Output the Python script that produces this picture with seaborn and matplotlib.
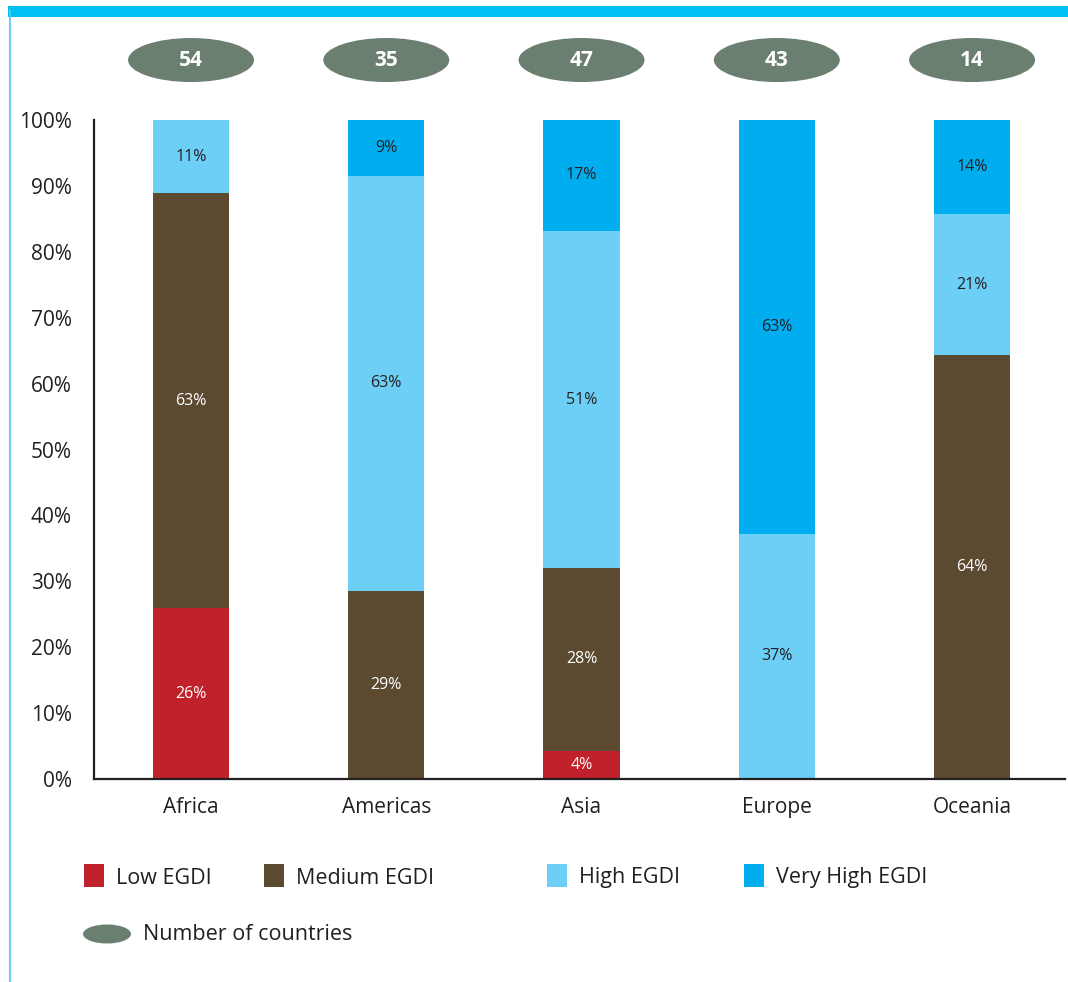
import numpy as np
import pandas as pd
import matplotlib
matplotlib.use("Agg")
import matplotlib.pyplot as plt
import seaborn as sns
from matplotlib.patches import Ellipse, Rectangle
from matplotlib.lines import Line2D

# ---------------- data ----------------
regions = ["Africa", "Americas", "Asia", "Europe", "Oceania"]
country_counts = [54, 35, 47, 43, 14]
levels = ["Low EGDI", "Medium EGDI", "High EGDI", "Very High EGDI"]
low = [25.9, 0.0, 4.3, 0.0, 0.0]
medium = [63.0, 28.6, 27.7, 0.0, 64.3]
high = [11.1, 62.9, 51.1, 37.2, 21.4]
very_high = [0.0, 8.6, 17.0, 62.8, 14.3]
y_ticks = [0, 10, 20, 30, 40, 50, 60, 70, 80, 90, 100]

series = [low, medium, high, very_high]
colors = ["#c1212a", "#5b4930", "#6dcff6", "#00aeef"]
label_colors = ["white", "white", "#231f20", "#231f20"]
ellipse_color = "#6b7f70"
text_color = "#231f20"

sns.set_theme(style="white")
plt.rcParams["font.family"] = ["Open Sans", "DejaVu Sans"]

W, H = 1068, 982
fig = plt.figure(figsize=(W / 100, H / 100), dpi=100)
ax = fig.add_axes([94 / W, 1 - 779 / H, (1065 - 94) / W, (779 - 120) / H])

bottom = np.zeros(len(regions))
for name, vals, col, lcol in zip(levels, series, colors, label_colors):
    vals = np.array(vals, dtype=float)
    df = pd.DataFrame({"region": regions, "value": vals})
    sns.barplot(data=df, x="region", y="value", order=regions, color=col,
                width=0.39, bottom=bottom.copy(), ax=ax, saturation=1,
                errorbar=None, linewidth=0)
    for i, v in enumerate(vals):
        if v > 0:
            ax.text(i, bottom[i] + v / 2, f"{round(v)}%", ha="center",
                    va="center", fontsize=11.5, color=lcol)
    bottom += vals

# country count ellipses
for i, n in enumerate(country_counts):
    ax.add_patch(Ellipse((i, 109.1), 0.645, 6.68, facecolor=ellipse_color,
                         edgecolor="none", clip_on=False))
    ax.text(i, 109.1, str(n), ha="center", va="center", fontsize=15,
            fontweight="bold", color="white", clip_on=False)

ax.set_xlim(-0.497, 4.476)
ax.set_ylim(0, 100)
ax.set_yticks(y_ticks)
ax.set_yticklabels([f"{t}%" for t in y_ticks])
ax.set_xlabel("")
ax.set_ylabel("")
ax.tick_params(axis="both", length=0, labelsize=15, labelcolor=text_color)
ax.tick_params(axis="y", pad=16)
ax.tick_params(axis="x", pad=13)
for s in ["top", "right"]:
    ax.spines[s].set_visible(False)
for s in ["left", "bottom"]:
    ax.spines[s].set_color(text_color)
    ax.spines[s].set_linewidth(1.6)

# decorative frame lines
fig.add_artist(Rectangle((8 / W, 1 - 17 / H), 1, 11 / H, transform=fig.transFigure,
                         facecolor="#00bff3", edgecolor="none"))
fig.add_artist(Line2D([9.5 / W, 9.5 / W], [0, 1 - 10 / H], transform=fig.transFigure,
                      color="#5ac8f0", lw=1.3))

# legend (manual)
leg_x = [84, 264, 547, 744]
for x0, name, col in zip(leg_x, levels, colors):
    fig.add_artist(Rectangle((x0 / W, 1 - 887 / H), 20 / W, 23 / H,
                             transform=fig.transFigure, facecolor=col, edgecolor="none"))
    fig.text((x0 + 32) / W, 1 - 878 / H, name, ha="left", va="center",
             fontsize=15.5, color=text_color)
fig.add_artist(Ellipse((107 / W, 1 - 934 / H), 48 / W, 19 / H,
                       transform=fig.transFigure, facecolor=ellipse_color, edgecolor="none"))
fig.text(143 / W, 1 - 935 / H, "Number of countries", ha="left", va="center",
         fontsize=15.5, color=text_color)

fig.savefig("out.png", dpi=100)
